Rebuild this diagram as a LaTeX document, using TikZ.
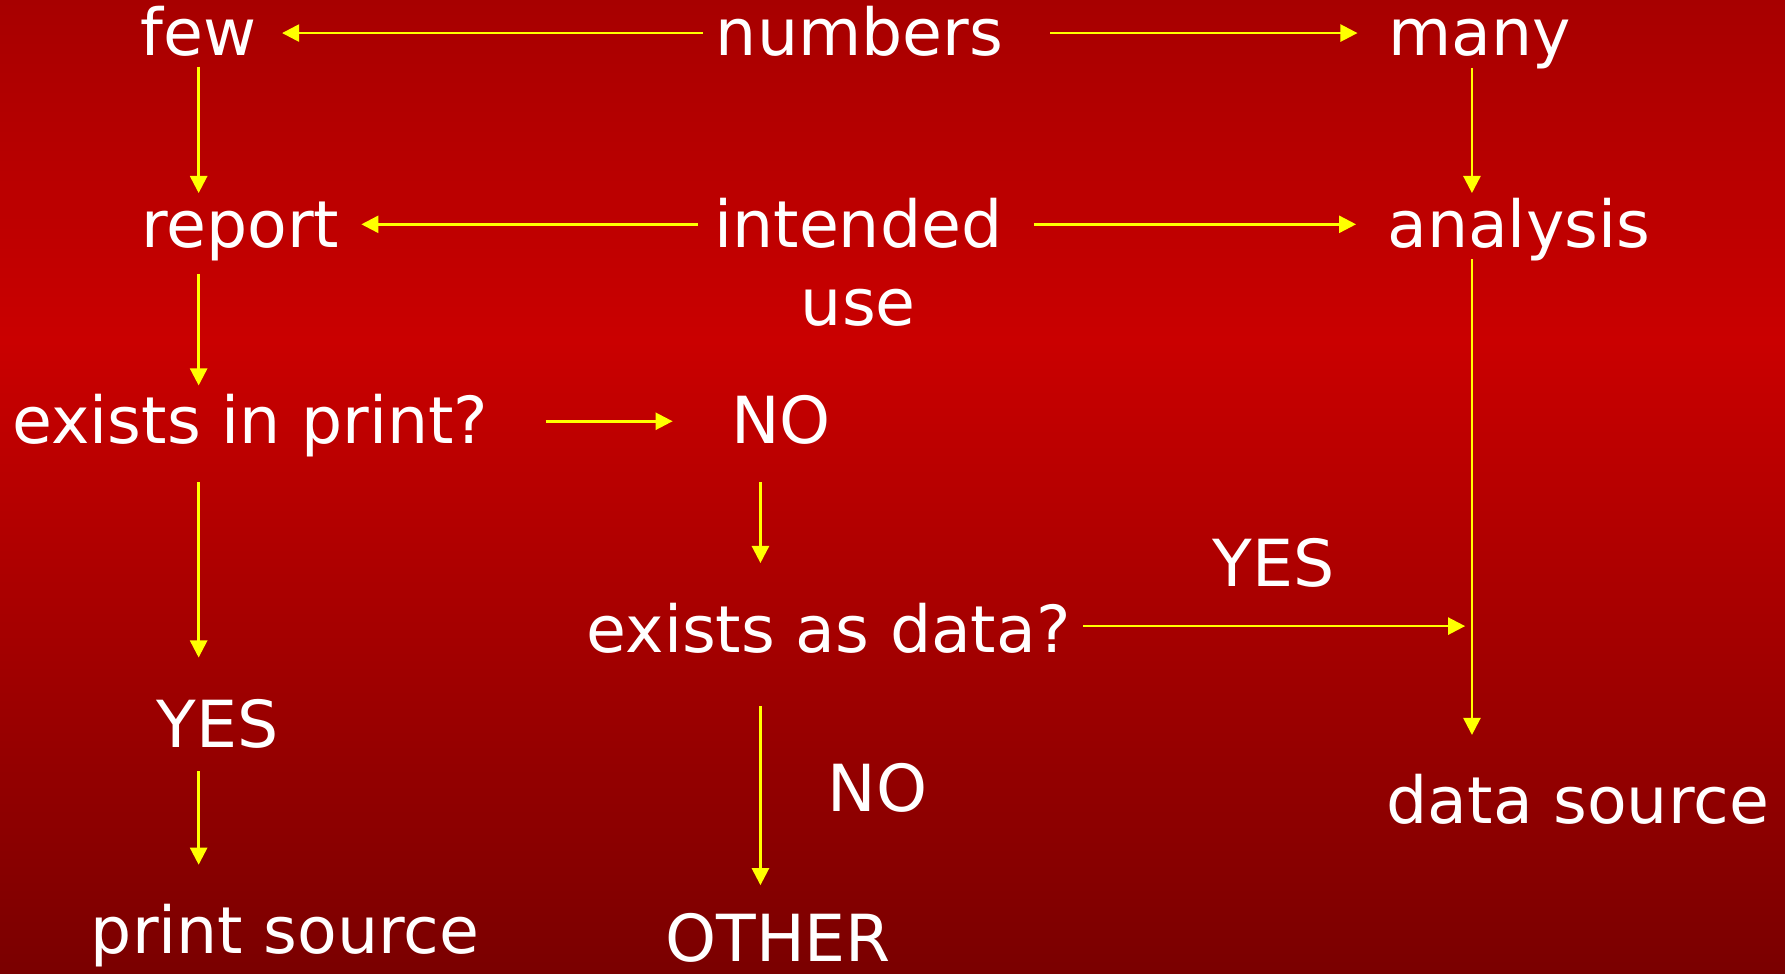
\documentclass[tikz,border=0pt]{standalone}
\usepackage{fontspec}
\setmainfont{DejaVu Sans}
\usetikzlibrary{arrows.meta}
\definecolor{bgtop}{HTML}{A70000}
\definecolor{bgmid}{HTML}{CA0000}
\definecolor{bgbot}{HTML}{7A0000}
\definecolor{arrowyellow}{HTML}{FFFF00}
\pgfdeclareverticalshading{bgshade}{100bp}{color(0bp)=(bgbot); color(25bp)=(bgbot); color(57.5bp)=(bgmid); color(75bp)=(bgtop); color(100bp)=(bgtop)}
\begin{document}
\begin{tikzpicture}[x=0.5pt,y=-0.5pt,
  lbl/.style={text=white, inner sep=0pt, font=\fontsize{28.5}{34}\selectfont, text height=22.8pt, text depth=2.85pt, anchor=base},
  lbltwo/.style={text=white, inner sep=0pt, font=\fontsize{28.5}{34}\selectfont, align=center, anchor=north},
  arr/.style={draw=arrowyellow, line width=1.1pt, -{Triangle[length=7.5pt,width=7.5pt]}, arrowyellow}]
\useasboundingbox (0,0) rectangle (1568,855);
\shade[shading=bgshade] (0,0) rectangle (1568,855);

\node[lbl] (few) at (174.5,49) {few};
\node[lbl] (numbers) at (755,49) {numbers};
\node[lbl] (many) at (1300,49) {many};
\node[lbl] (report) at (211,217) {report};
\node[lbltwo] (intended) at (754,174) {intended\\use};
\node[lbl] (analysis) at (1334,217) {analysis};
\node[lbl] (inprint) at (220,390) {exists in print?};
\node[lbl] (no1) at (686,390) {NO};
\node[lbl] (asdata) at (728,573) {exists as data?};
\node[lbl] (yes2) at (1118.5,515) {YES};
\node[lbl] (yes1) at (191,657) {YES};
\node[lbl] (no2) at (771,713) {NO};
\node[lbl] (datasrc) at (1386,723) {data source};
\node[lbl] (printsrc) at (250.5,838) {print source};
\node[lbl] (other) at (683.5,845) {OTHER};
\coordinate (join) at (1287,550);

\draw[arr, shorten <=5.5pt, shorten >=11pt] (numbers.west) -- (few.east);
\draw[arr, shorten <=20.5pt, shorten >=13.5pt] (numbers.east) -- (many.west);
\draw[arr, shorten <=1.75pt, shorten >=0.7pt] (few.south) -- (few.south |- report.north);
\draw[arr, shorten <=2.25pt, shorten >=0.7pt] ([xshift=-3.5pt]many.south) -- ([xshift=-3.5pt]many.south |- analysis.north);
\draw[arr, shorten <=7.2pt, shorten >=9.5pt] (intended.north west |- report.east) -- (report.east);
\draw[arr, shorten <=13.7pt, shorten >=13.5pt] (intended.north east |- analysis.west) -- (analysis.west);
\draw[arr, shorten <=8.75pt, shorten >=2.7pt] (few.south |- report.south) -- (few.south |- inprint.north);
\draw[arr, shorten <=25pt, shorten >=25.5pt] (inprint.east) -- (no1.west);
\draw[arr, shorten <=13.75pt, shorten >=16.7pt] (few.south |- inprint.south) -- (few.south |- yes1.north);
\draw[arr, shorten <=7.25pt, shorten >=16.2pt] (few.south |- yes1.south) -- (few.south |- printsrc.north);
\draw[arr, shorten <=13.75pt, shorten >=16.2pt] ([xshift=-9pt]no1.south) -- ([xshift=-9pt]no1.south |- asdata.north);
\draw[arr, shorten <=20.75pt, shorten >=10.7pt] ([xshift=-9pt]no1.south |- asdata.south) -- ([xshift=-9pt]no1.south |- other.north);
\draw[arr, shorten <=2.25pt, shorten >=15.7pt] ([xshift=-3.5pt]many.south |- analysis.south) -- ([xshift=-3.5pt]many.south |- datasrc.north);
\draw[arr, shorten <=5.25pt] (asdata.east |- join) -- (join);
\end{tikzpicture}
\end{document}
